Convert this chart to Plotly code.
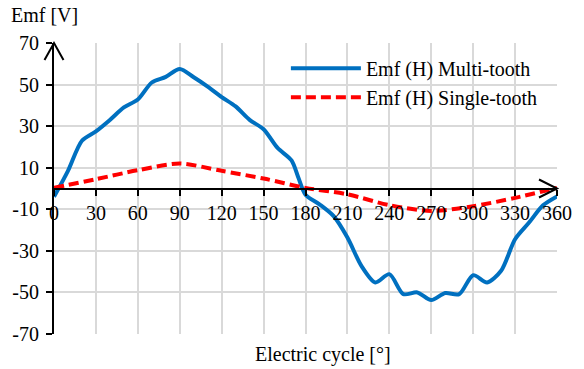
import plotly.graph_objects as go

angles = [0, 10, 20, 30, 40, 50, 60, 70, 80, 90, 100, 110, 120, 130, 140, 150, 160, 170, 175, 180,
          190, 200, 210, 220, 230, 240, 250, 260, 270, 280, 290, 300, 310, 320, 330, 340, 350, 360]
emf_multi = [-4, 8.5, 23, 27.5, 33, 39, 42.8, 51, 53.7, 57.5, 53.5, 49, 44, 39.5, 33, 28.5, 19.5, 13.5, 5, -3,
             -7.6, -13.2, -23.6, -37.2, -45.2, -41.2, -50.8, -50, -53.7, -50.3, -50.8, -41.7, -45.2, -39.6,
             -24.4, -16.4, -8.1, -3.8]

angles_single = [0, 30, 60, 90, 120, 150, 180, 210, 240, 270, 300, 330, 360]
emf_single = [0.3, 4.5, 8.8, 12, 8.5, 4.8, 0.3, -2.8, -8, -10.8, -8.5, -4.5, 0.3]

x_ticks = list(range(0, 361, 30))
y_ticks = list(range(-70, 71, 20))

FONT = "Liberation Serif, Times New Roman, Times, serif"

fig = go.Figure()
fig.add_trace(go.Scatter(x=angles, y=emf_multi, mode="lines", name="Emf (H) Multi-tooth",
                         line=dict(color="#0070C0", width=4, shape="spline", smoothing=0.8)))
fig.add_trace(go.Scatter(x=angles_single, y=emf_single, mode="lines", name="Emf (H) Single-tooth",
                         line=dict(color="#FF0000", width=4, dash="10px,5px", shape="spline", smoothing=0.8)))

fig.update_layout(
    width=584, height=369,
    margin=dict(l=54, r=16, t=43, b=35),
    plot_bgcolor="white", paper_bgcolor="white",
    font=dict(family=FONT, size=20, color="black"),
    showlegend=True,
    legend=dict(x=0.461, y=0.98, xanchor="left", yanchor="top", bgcolor="rgba(0,0,0,0)",
                font=dict(family=FONT, size=20, color="black"), itemwidth=70,
                tracegroupgap=0),
    xaxis=dict(range=[0, 360], tickvals=x_ticks, ticktext=[str(v) for v in x_ticks],
               showgrid=True, gridcolor="#D9D9D9", gridwidth=1.5,
               showline=True, linecolor="black", linewidth=2,
               ticks="outside", ticklen=6, tickwidth=2, tickcolor="black",
               anchor="free", position=0.5, zeroline=False,
               tickfont=dict(family=FONT, size=20, color="black")),
    yaxis=dict(range=[-70, 70], tickvals=y_ticks, ticktext=[str(v) for v in y_ticks],
               showgrid=True, gridcolor="#D9D9D9", gridwidth=1.5,
               showline=True, linecolor="black", linewidth=2,
               ticks="outside", ticklen=6, tickwidth=2, tickcolor="black",
               zeroline=False, ticklabelstandoff=3,
               tickfont=dict(family=FONT, size=20, color="black")),
)

# Axis arrowheads (paper-anchored so they are not clipped)
fig.add_shape(type="path", xref="paper", yref="paper", xsizemode="pixel", ysizemode="pixel",
              xanchor=0, yanchor=1, path="M-9.5,-17 L0,0 L9.5,-17",
              line=dict(color="black", width=2), layer="above")
fig.add_shape(type="path", xref="paper", yref="paper", xsizemode="pixel", ysizemode="pixel",
              xanchor=1, yanchor=0.5, path="M-18,9 L0,0 L-18,-9",
              line=dict(color="black", width=2), layer="above")

fig.add_annotation(text="Emf [V]", xref="paper", yref="paper", x=-0.09, y=1.0, yshift=28,
                   xanchor="left", yanchor="middle", showarrow=False,
                   font=dict(family=FONT, size=20, color="black"))
fig.add_annotation(text="Electric cycle [°]", xref="paper", yref="paper", x=0.535, y=0, yshift=-20,
                   xanchor="center", yanchor="middle", showarrow=False,
                   font=dict(family=FONT, size=20, color="black"))

fig.write_html("out.html")
